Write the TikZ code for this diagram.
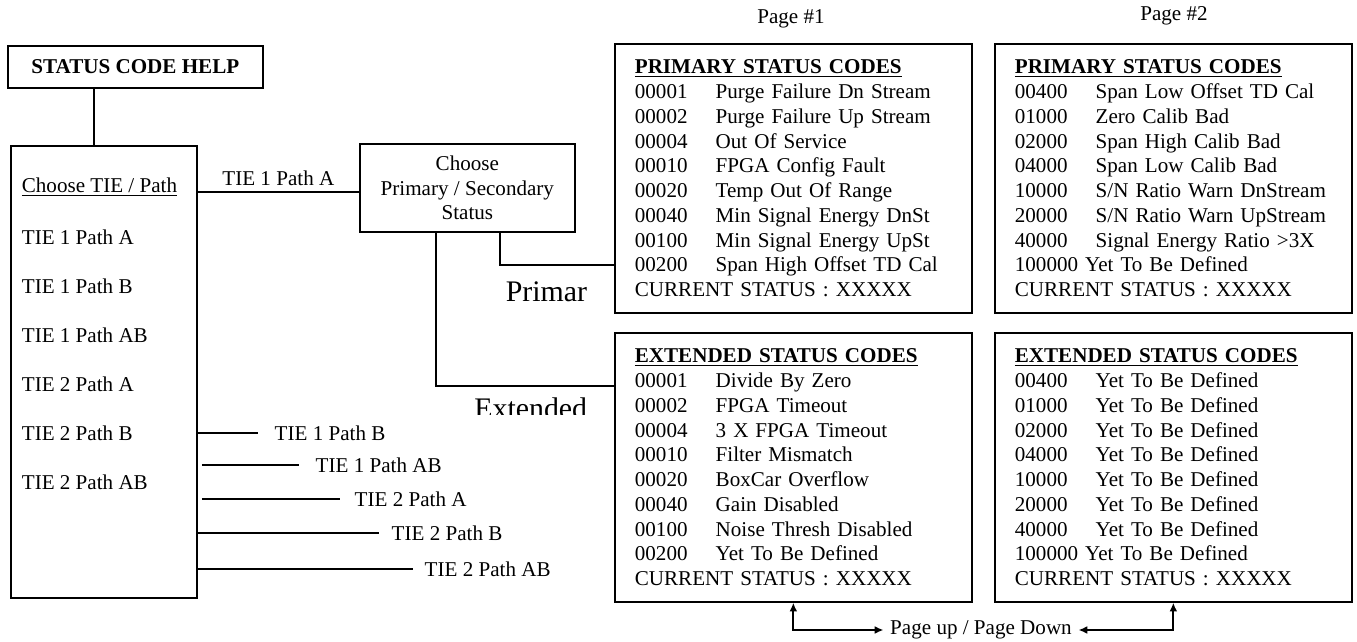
\documentclass[tikz,border=0pt]{standalone}
\usepackage{fontspec}
\setmainfont{Liberation Serif}
\usetikzlibrary{arrows.meta}
\newcommand{\crow}[2]{\makebox[46pt][l]{#1}#2}

\tikzset{
  box/.style={draw, anchor=north west, inner sep=0pt},
  codebox/.style={draw, anchor=north west, minimum width=7.14cm, minimum height=5.38cm,
    text width=6.34cm, inner xsep=0.4cm, inner ysep=0pt, align=left},
  item/.style={anchor=west, inner sep=0pt},
  bigword/.style={anchor=east, inner sep=0pt, font=\fontsize{17}{20}\selectfont},
}

\begin{document}
\begin{tikzpicture}[x=0.02cm, y=-0.02cm, line width=1pt,
  every node/.style={font=\fontsize{12}{14.1}\selectfont},
  >={Latex[length=5pt,width=4.5pt]}]
  \useasboundingbox (0,0) rectangle (1357,642);

  % Define nodes
  \node[box, minimum width=5.1cm, minimum height=0.84cm] (help) at (7,45) {\textbf{STATUS CODE HELP}};
  \node[box, minimum width=3.72cm, minimum height=9.04cm] (tiebox) at (10,145) {};
  \node[item] (pickhead) at (21,187) {\underline{Choose TIE / Path}};
  \foreach \txt [count=\i] in {TIE 1 Path A, TIE 1 Path B, TIE 1 Path AB,
                               TIE 2 Path A, TIE 2 Path B, TIE 2 Path AB}
    \node[item] (entry\i) at (21,188+49*\i) {\txt};
  \node[box, minimum width=4.3cm, minimum height=1.76cm, align=center] (pick) at (359,143)
    {Choose\\Primary / Secondary\\Status};

  \node (page1) at (791,19) {Page \#1};
  \node (page2) at (1174,16) {Page \#2};

  \node[codebox] (prim1) at (614,43) {%
    \underline{\textbf{PRIMARY STATUS CODES}}\\
    \crow{00001}{Purge Failure Dn Stream}\\
    \crow{00002}{Purge Failure Up Stream}\\
    \crow{00004}{Out Of Service}\\
    \crow{00010}{FPGA Config Fault}\\
    \crow{00020}{Temp Out Of Range}\\
    \crow{00040}{Min Signal Energy DnSt}\\
    \crow{00100}{Min Signal Energy UpSt}\\
    \crow{00200}{Span High Offset TD Cal}\\
    CURRENT STATUS : XXXXX};
  \node[codebox] (prim2) at (994,43) {%
    \underline{\textbf{PRIMARY STATUS CODES}}\\
    \crow{00400}{Span Low Offset TD Cal}\\
    \crow{01000}{Zero Calib Bad}\\
    \crow{02000}{Span High Calib Bad}\\
    \crow{04000}{Span Low Calib Bad}\\
    \crow{10000}{S/N Ratio Warn DnStream}\\
    \crow{20000}{S/N Ratio Warn UpStream}\\
    \crow{40000}{Signal Energy Ratio >3X}\\
    100000 Yet To Be Defined\\
    CURRENT STATUS : XXXXX};
  \node[codebox] (ext1) at (614,332) {%
    \underline{\textbf{EXTENDED STATUS CODES}}\\
    \crow{00001}{Divide By Zero}\\
    \crow{00002}{FPGA Timeout}\\
    \crow{00004}{3 X FPGA Timeout}\\
    \crow{00010}{Filter Mismatch}\\
    \crow{00020}{BoxCar Overflow}\\
    \crow{00040}{Gain Disabled}\\
    \crow{00100}{Noise Thresh Disabled}\\
    \crow{00200}{Yet To Be Defined}\\
    CURRENT STATUS : XXXXX};
  \node[codebox] (ext2) at (994,332) {%
    \underline{\textbf{EXTENDED STATUS CODES}}\\
    \crow{00400}{Yet To Be Defined}\\
    \crow{01000}{Yet To Be Defined}\\
    \crow{02000}{Yet To Be Defined}\\
    \crow{04000}{Yet To Be Defined}\\
    \crow{10000}{Yet To Be Defined}\\
    \crow{20000}{Yet To Be Defined}\\
    \crow{40000}{Yet To Be Defined}\\
    100000 Yet To Be Defined\\
    CURRENT STATUS : XXXXX};

  \node[bigword] (primword) at (588,292) {Primar};
  \begin{scope}
    \clip (470,380) rectangle (605,414);
    \node[bigword] (extword) at (588,408) {Extended};
  \end{scope}

  \node (paging) at (981,630) {Page up / Page Down};

  % Connect
  \draw (help.south -| 94,0) -- (tiebox.north -| 94,0);
  \draw (tiebox.east |- 0,192) -- node[above] (pathA) {TIE 1 Path A} (pick.west |- 0,192);
  \draw (pick.south -| 500,0) |- (prim1.west |- 0,265);
  \draw (pick.south -| 436,0) |- (ext1.west |- 0,386);
  \foreach \txt/\yy/\xx/\pre/\gap [count=\i] in {TIE 1 Path B/433/268/0pt/5.7pt,
      TIE 1 Path AB/465/309/2.3pt/5.7pt, TIE 2 Path A/499/348/2.3pt/4.6pt,
      TIE 2 Path B/533/385/0pt/3.4pt, TIE 2 Path AB/569/418/0pt/2.8pt} {
    \node[anchor=west] (branch\i) at (\xx,\yy) {\txt};
    \draw[shorten <=\pre, shorten >=\gap] (tiebox.east |- branch\i.west) -- (branch\i.west);
  }
  \draw[<->] (ext1.south) |- (paging.west);
  \draw[<->] (ext2.south) |- (paging.east);
\end{tikzpicture}
\end{document}
